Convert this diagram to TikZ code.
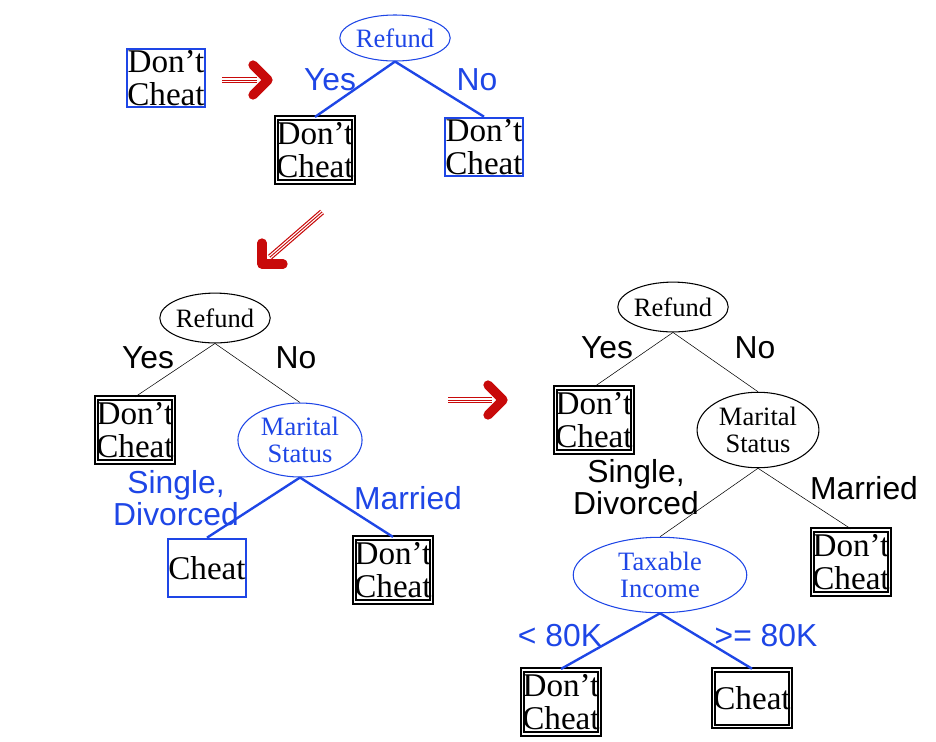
\documentclass[tikz,border=0pt]{standalone}
\usepackage{fontspec}
\setmainfont{Liberation Serif}
\newfontfamily\lblfont{Liberation Sans}
\usetikzlibrary{arrows.meta,shapes.geometric,calc}
\definecolor{treeblue}{RGB}{30,70,230}
\definecolor{arrred}{RGB}{200,10,10}
\begin{document}
\begin{tikzpicture}[x=0.0265cm, y=-0.0265cm,
        test/.style={draw, ellipse, thick, inner sep=0pt, align=center, font=\fontsize{20}{20}\selectfont},
        leaf/.style={draw, line width=1.5pt, double, double distance=1.2pt, align=center, inner sep=0pt, minimum width=2.05cm, minimum height=1.7cm, font=\fontsize{25}{25}\selectfont},
        bleaf/.style={draw=treeblue, line width=1.6pt, align=center, inner sep=0pt, minimum width=2.05cm, minimum height=1.55cm, font=\fontsize{25}{25}\selectfont},
        lbl/.style={font=\lblfont\fontsize{24}{24}\selectfont, align=center},
        edge/.style={thin},
        bedge/.style={treeblue, line width=1.8pt},
        bigarrow/.style={arrred, line width=0.9pt, double, double distance=2.6pt, shorten >=8pt,
            postaction={draw, arrred, line width=0.7pt, shorten >=8pt}},
        head/.style={arrred, line width=7pt, line cap=round, line join=round}
    ]
    \useasboundingbox (0,0) rectangle (936,741);

    % step 1
    \node[bleaf] (s0) at (166,78) {Don't\\Cheat};
    \node[test, draw=treeblue, text=treeblue, minimum width=2.54cm, minimum height=1.22cm] (r1) at (395,38) {Refund};
    \node[leaf] (l1) at (315,150) {Don't\\Cheat};
    \node[bleaf] (l2) at (484,147) {Don't\\Cheat};
    \draw[bedge] (r1.south) -- (l1.north);
    \draw[bedge] (r1.south) -- (l2.north);
    \node[lbl, text=treeblue] (y1) at (330,80) {Yes};
    \node[lbl, text=treeblue] (n1) at (477,80) {No};

    \coordinate (a1s) at (222,80);
    \coordinate (a1e) at (268,80);
    \draw[bigarrow] (a1s) -- (a1e);
    \draw[head] ($(a1e)+(-15,-15)$) -- (a1e) -- ($(a1e)+(-15,15)$);

    \coordinate (a2s) at (322,212);
    \coordinate (a2e) at (262,264);
    \draw[bigarrow] (a2s) -- (a2e);
    \draw[head] ($(a2e)+(0,-21)$) -- (a2e) -- ($(a2e)+(21,0)$);

    % step 2
    \node[test, minimum width=2.6cm, minimum height=1.32cm] (r2) at (215,318) {Refund};
    \node[leaf] (l3) at (135,430) {Don't\\Cheat};
    \node[test, draw=treeblue, text=treeblue, minimum width=3.29cm, minimum height=1.96cm] (m2) at (300,440) {Marital\\Status};
    \node[bleaf] (l4) at (207,568) {Cheat};
    \node[leaf] (l5) at (393,570) {Don't\\Cheat};
    \draw[edge] (r2.south) -- (l3.north);
    \draw[edge] (r2.south) -- (m2.north);
    \draw[bedge] (m2.south) -- (l4.north);
    \draw[bedge] (m2.south) -- (l5.north);
    \node[lbl] (y2) at (148,358) {Yes};
    \node[lbl] (n2) at (296,358) {No};
    \node[lbl, text=treeblue] (sd2) at (176,498) {Single,\\Divorced};
    \node[lbl, text=treeblue] (ma2) at (408,498) {Married};

    \coordinate (a3s) at (448,400);
    \coordinate (a3e) at (503,400);
    \draw[bigarrow] (a3s) -- (a3e);
    \draw[head] ($(a3e)+(-15,-15)$) -- (a3e) -- ($(a3e)+(-15,15)$);

    % step 3
    \node[test, minimum width=2.54cm, minimum height=1.32cm] (r3) at (673,307) {Refund};
    \node[leaf] (l6) at (594,420) {Don't\\Cheat};
    \node[test, minimum width=3.23cm, minimum height=2cm] (m3) at (758,430) {Marital\\Status};
    \node[leaf] (l7) at (851,562) {Don't\\Cheat};
    \node[test, draw=treeblue, text=treeblue, minimum width=4.6cm, minimum height=2cm] (t3) at (660,575) {Taxable\\Income};
    \node[leaf] (l8) at (561,702) {Don't\\Cheat};
    \node[leaf, minimum height=1.5cm] (l9) at (752,698) {Cheat};
    \draw[edge] (r3.south) -- (l6.north);
    \draw[edge] (r3.south) -- (m3.north);
    \draw[edge] (m3.south) -- (t3.north);
    \draw[edge] (m3.south) -- (l7.north);
    \draw[bedge] (t3.south) -- (l8.north);
    \draw[bedge] (t3.south) -- (l9.north);
    \node[lbl] (y3) at (607,348) {Yes};
    \node[lbl] (n3) at (755,348) {No};
    \node[lbl] (sd3) at (636,487) {Single,\\Divorced};
    \node[lbl] (ma3) at (864,488) {Married};
    \node[lbl, text=treeblue] (lt3) at (560,636) {< 80K};
    \node[lbl, text=treeblue] (ge3) at (766,636) {>= 80K};
\end{tikzpicture}
\end{document}
